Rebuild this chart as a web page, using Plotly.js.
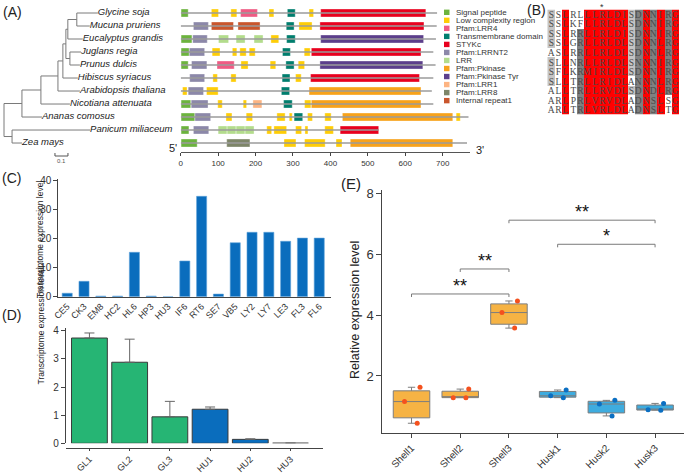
<!DOCTYPE html>
<html>
<head>
<meta charset="utf-8">
<script src="https://cdn.plot.ly/plotly-3.0.1.min.js"></script>
<style>
  html, body { margin: 0; padding: 0; background: #fff; }
  #fig { width: 685px; height: 474px; }
</style>
</head>
<body>
<div id="fig"></div>
<script>
const W = 685, H = 474;
const FONT = 'Liberation Sans, Arial, sans-serif';

// ---------- (A) tree + domain architecture ----------
const species = ['Glycine soja', 'Mucuna pruriens', 'Eucalyptus grandis', 'Juglans regia', 'Prunus dulcis',
  'Hibiscus syriacus', 'Arabidopsis thaliana', 'Nicotiana attenuata', 'Ananas comosus', 'Panicum miliaceum', 'Zea mays'];
const proteinLength = [685, 684, 682, 675, 681, 675, 671, 675, 769, 529, 765];

const domainTypes = ['Signal peptide', 'Low complexity region', 'Pfam:LRR4', 'Transmembrane domain', 'STYKc',
  'Pfam:LRRNT2', 'LRR', 'Pfam:Pkinase', 'Pfam:Pkinase Tyr', 'Pfam:LRR1', 'Pfam:LRR8', 'Internal repeat1'];
const domainColors = ['#6cb33e', '#fecd07', '#ef5b84', '#007e6e', '#e8001e', '#8c88a9', '#b3dc8c',
  '#f7a21b', '#5c3f8b', '#fdb482', '#7d8568', '#c9562d'];

// [type index, start, end] for each protein
const domains = [
  [[0, 1, 20], [1, 82, 101], [1, 134, 150], [2, 160, 205], [1, 236, 249], [3, 285, 306], [1, 343, 355], [4, 374, 655]],
  [[5, 34, 74], [11, 82, 141], [11, 153, 212], [3, 282, 303], [1, 316, 351], [4, 372, 650]],
  [[0, 1, 30], [5, 32, 71], [6, 101, 128], [6, 148, 172], [6, 196, 220], [1, 241, 262], [3, 283, 306], [8, 374, 649]],
  [[0, 1, 23], [5, 23, 64], [1, 84, 105], [1, 138, 150], [1, 158, 175], [1, 183, 199], [3, 272, 293], [1, 330, 346], [4, 349, 642]],
  [[0, 1, 20], [5, 29, 70], [2, 97, 143], [1, 161, 180], [1, 239, 254], [3, 281, 303], [1, 314, 331], [8, 372, 647]],
  [[5, 24, 64], [1, 86, 98], [1, 134, 148], [3, 271, 292], [1, 307, 322], [4, 347, 638]],
  [[1, 5, 17], [5, 20, 61], [1, 69, 100], [3, 269, 291], [7, 343, 642]],
  [[0, 1, 27], [5, 28, 73], [1, 99, 111], [1, 167, 176], [9, 193, 217], [3, 275, 298], [1, 331, 348], [7, 349, 642]],
  [[0, 1, 38], [5, 38, 80], [1, 121, 137], [1, 175, 192], [1, 257, 279], [1, 290, 298], [3, 303, 326], [1, 339, 352], [1, 385, 402], [7, 432, 727], [1, 736, 747]],
  [[0, 1, 22], [5, 34, 75], [6, 100, 124], [6, 124, 148], [6, 148, 172], [6, 172, 196], [1, 230, 243], [1, 249, 283], [1, 307, 323], [1, 332, 340], [1, 385, 408], [4, 426, 529]],
  [[0, 1, 44], [10, 123, 185], [1, 276, 308], [1, 331, 386], [1, 415, 431], [7, 453, 727]]
];

// tree: leaf = [row, branch length], node = [null, branch length, children]
const tree = [null, 0, [
  [null, 0.138, [
    [8, 0.154],
    [null, 0.146, [
      [7, 0.223],
      [null, 0.131, [
        [6, 0.169],
        [null, 0.038, [
          [5, 0.115],
          [null, 0.023, [
            [null, 0.015, [
              [null, 0.069, [[0, 0.162], [1, 0.1]]],
              [2, 0.115]
            ]],
            [null, 0.031, [[3, 0.085], [4, 0.077]]]
          ]]
        ]]
      ]]
    ]]
  ]],
  [null, 0.062, [[9, 0.6], [10, 0.077]]]
]];

// ---------- (B) alignment ----------
const alignment = [
  'SSLRLLLRLDISDNNIRG',
  'SSLKFLLRLDLSDNNIRG',
  'SSLRRLLRLDISDNNIRG',
  'SSLGRLLRLDLSDNNLRG',
  'ASLRRLLRLDLSDNNLRG',
  'SLLNRLLRLDLSNNNIRG',
  'SFLKRMIRLDLSDNNIRG',
  'SLLTRLLRIDLANNNLRG',
  'ALLTRLLRVDLSDNDLRG',
  'ARLPRLVRVDLADNSLSG',
  'ARLTRLVRLDLADNSLTG'
];
// 0 none, 1 light grey, 2 dark grey, 3 red
const shading = [
  '103003333331232323',
  '103003333331232323',
  '103023333331232323',
  '103023333331232323',
  '003023333331232323',
  '103023333331232323',
  '103023333331232323',
  '103023333330232323',
  '003023333331232323',
  '003023333330232303',
  '003023333330232303'
];

// ---------- (C) ----------
const cultivars = ['CE5', 'CK3', 'EM8', 'HC2', 'HL6', 'HP3', 'HU3', 'IF6', 'RT6', 'SE7', 'VB5', 'LY2', 'LY7', 'LE3', 'FL3', 'FL6'];
const transcriptome = [1.2, 5.3, 0.2, 0.2, 15.3, 0.2, 0, 12.3, 34.6, 0.9, 18.6, 22.2, 22.2, 19.1, 20.2, 20.2];

// ---------- (D) ----------
const tissues = ['GL1', 'GL2', 'GL3', 'HU1', 'HU2', 'HU3'];
const tissueMean = [3.74, 2.88, 0.94, 1.21, 0.14, 0.005];
const tissueErr = [0.18, 0.82, 0.55, 0.08, 0.02, 0];

// ---------- (E) ----------
const samples = ['Shell1', 'Shell2', 'Shell3', 'Husk1', 'Husk2', 'Husk3'];
const sampleValues = [[0.45, 1.16, 1.63], [1.29, 1.29, 1.57], [3.57, 4.08, 4.46],
  [1.29, 1.35, 1.54], [0.69, 1.08, 1.2], [0.88, 0.89, 1.1]];
const comparisons = [[0, 2, 4.69, '**'], [1, 2, 5.51, '**'], [3, 5, 6.32, '*'], [2, 5, 7.11, '**']];

// ---------- helpers ----------
const xd = (a, b) => [a / W, b / W];
const yd = (top, bottom) => [1 - bottom / H, 1 - top / H];
const traces = [], shapes = [], annotations = [];

// backbone lines
const bx = [], by = [];
proteinLength.forEach((len, r) => { bx.push(0, len, null); by.push(r, r, null); });
traces.push({ type: 'scatter', mode: 'lines', x: bx, y: by, xaxis: 'x', yaxis: 'y',
  line: { color: '#9b9b9b', width: 1.6 }, hoverinfo: 'skip', showlegend: false });

domainTypes.forEach((name, t) => {
  const ys = [], bases = [], lens = [];
  domains.forEach((row, r) => row.forEach(d => {
    if (d[0] === t) { ys.push(r); bases.push(d[1]); lens.push(d[2] - d[1]); }
  }));
  traces.push({ type: 'bar', orientation: 'h', name: name, y: ys, base: bases, x: lens, width: 0.62,
    xaxis: 'x', yaxis: 'y', marker: { color: domainColors[t], line: { color: 'rgba(255,255,255,0.6)', width: 0.6 } },
    hoverinfo: 'skip', showlegend: false });
  // legend
  const cy = 12.3 + 8.03 * t;
  shapes.push({ type: 'rect', xref: 'paper', yref: 'paper', x0: 444 / W, x1: 449.5 / W,
    y0: 1 - (cy + 2.7) / H, y1: 1 - (cy - 2.7) / H, fillcolor: domainColors[t], line: { width: 0 } });
  annotations.push({ xref: 'paper', yref: 'paper', x: 454 / W, y: 1 - cy / H, xanchor: 'left', yanchor: 'middle',
    text: name, showarrow: false, font: { size: 8, color: '#333', family: FONT } });
});

// tree
const treeX = [], treeY = [], tipX = [], tipY = [], tipText = [];
function layoutNode(node, x0) {
  const leaf = node[0], len = node[1], kids = node[2];
  const x = x0 + len;
  let y;
  if (kids) {
    const ys = kids.map(k => layoutNode(k, x));
    y = (ys[0] + ys[ys.length - 1]) / 2;
    treeX.push(x, x, null); treeY.push(ys[0], ys[ys.length - 1], null);
  } else {
    y = leaf; tipX.push(x); tipY.push(y); tipText.push(species[leaf]);
  }
  if (len > 0) { treeX.push(x0, x, null); treeY.push(y, y, null); }
  return y;
}
layoutNode(tree, 0);
traces.push({ type: 'scatter', mode: 'lines', x: treeX, y: treeY, xaxis: 'x2', yaxis: 'y',
  line: { color: '#7a7a7a', width: 1 }, hoverinfo: 'skip', showlegend: false });
traces.push({ type: 'scatter', mode: 'text', x: tipX, y: tipY, text: tipText, textposition: 'middle right',
  xaxis: 'x2', yaxis: 'y', cliponaxis: false,
  textfont: { family: FONT, size: 9.5, style: 'italic', color: '#222' }, hoverinfo: 'skip', showlegend: false });
// scale bar 0.1
shapes.push({ type: 'path', xref: 'x2', yref: 'paper',
  path: 'M0.392,' + (1 - 153 / H) + ' L0.392,' + (1 - 156 / H) + ' L0.492,' + (1 - 156 / H) + ' L0.492,' + (1 - 153 / H),
  line: { color: '#555', width: 1 } });
annotations.push({ xref: 'x2', yref: 'paper', x: 0.442, y: 1 - 161 / H, text: '0.1', showarrow: false,
  font: { size: 6, color: '#555', family: FONT } });

// alignment heatmap
traces.push({ type: 'heatmap', z: shading.map(s => s.split('').map(Number)), text: alignment.map(s => s.split('')),
  texttemplate: '%{text}', textfont: { family: 'Liberation Serif, DejaVu Serif, serif', size: 9.5, color: '#4a4a4a' },
  zmin: 0, zmax: 3, showscale: false, hoverinfo: 'skip', xaxis: 'x3', yaxis: 'y3',
  colorscale: [[0, '#ffffff'], [0.1667, '#ffffff'], [0.1667, '#c4c4c4'], [0.5, '#c4c4c4'],
    [0.5, '#808080'], [0.8333, '#808080'], [0.8333, '#ff0000'], [1, '#ff0000']] });
annotations.push({ xref: 'x3', yref: 'paper', x: 7, y: 1, yanchor: 'top', text: '*',
  showarrow: false, font: { size: 9, color: '#333', family: FONT } });

// (C)
traces.push({ type: 'bar', x: cultivars, y: transcriptome, width: 0.6, xaxis: 'x4', yaxis: 'y4',
  marker: { color: '#0a6dbd', line: { color: '#5fa3da', width: 0.6 } }, hoverinfo: 'skip', showlegend: false });

// (D)
traces.push({ type: 'bar', x: tissues, y: tissueMean, width: 0.89, xaxis: 'x5', yaxis: 'y5',
  marker: { color: tissues.map(t => t.startsWith('GL') ? '#26b574' : '#0a6dbd'), line: { color: '#3a3a3a', width: 1 } },
  error_y: { type: 'data', symmetric: false, array: tissueErr, arrayminus: tissueErr.map(() => 0),
    color: '#666', thickness: 1, width: 5 },
  hoverinfo: 'skip', showlegend: false });

// (E)
samples.forEach((s, i) => {
  const shell = s.startsWith('Shell');
  traces.push({ type: 'box', name: s, y: sampleValues[i], x0: i, width: 0.75, xaxis: 'x6', yaxis: 'y6',
    boxpoints: 'all', jitter: 0.6, pointpos: 0, whiskerwidth: 0.2,
    fillcolor: shell ? 'rgba(245,166,35,0.85)' : 'rgba(41,163,220,0.9)',
    line: { color: '#7d7d7d', width: 1 },
    marker: { color: shell ? '#f4511e' : '#0b6fc2', size: 5 },
    hoverinfo: 'skip', showlegend: false });
});
comparisons.forEach(c => {
  const [a, b, lvl, star] = c;
  traces.push({ type: 'scatter', mode: 'lines', x: [a, a, b, b], y: [lvl - 0.1, lvl, lvl, lvl - 0.1],
    xaxis: 'x6', yaxis: 'y6', line: { color: '#7a7a7a', width: 1 }, hoverinfo: 'skip', showlegend: false });
  annotations.push({ xref: 'x6', yref: 'y6', x: (a + b) / 2, y: lvl, yanchor: 'bottom', yshift: -4,
    text: star, showarrow: false, font: { size: 18, color: '#111', family: FONT } });
});

// texts
const label = (t, x, y, size) => annotations.push({ xref: 'paper', yref: 'paper', x: x / W, y: 1 - y / H,
  xanchor: 'left', yanchor: 'middle', text: t, showarrow: false, font: { size: size || 14, color: '#222', family: FONT } });
label('(A)', 1, 12); label('(B)', 525, 10); label('(C)', 0, 178); label('(D)', 0, 315); label('(E)', 339, 184, 15);
label("5'", 167, 148, 11); label("3'", 474, 150, 11);
const vtitle = (t, x, y, size) => annotations.push({ xref: 'paper', yref: 'paper', x: x / W, y: 1 - y / H,
  textangle: -90, text: t, showarrow: false, font: { size: size, color: '#222', family: FONT } });
vtitle('Transcriptome expression level', 33, 240, 8.5);
vtitle('Transcriptome expression level', 33, 387, 8.5);
vtitle('Relative expression level', 355, 310, 12.5);

const axisBase = { showgrid: false, zeroline: false, showline: true, linecolor: '#444', linewidth: 1,
  ticks: 'outside', tickcolor: '#444', fixedrange: true };

const layout = {
  width: W, height: H, margin: { l: 0, r: 0, t: 0, b: 0 },
  paper_bgcolor: '#fff', plot_bgcolor: 'rgba(0,0,0,0)',
  font: { family: FONT, color: '#222' },
  barmode: 'overlay', boxmode: 'overlay', showlegend: false,
  xaxis: Object.assign({}, axisBase, { domain: xd(180.7, 470), range: [0, 773], anchor: 'y',
    tickvals: [0, 100, 200, 300, 400, 500, 600, 700], ticklen: 3, linecolor: '#555',
    tickfont: { size: 8, color: '#333' } }),
  yaxis: { domain: yd(0, 152), range: [10.69, -1], visible: false, fixedrange: true },
  xaxis2: { domain: xd(0, 180), range: [-4 / 130, 176 / 130], visible: false, anchor: 'y', fixedrange: true },
  xaxis3: { domain: xd(547.3, 679), range: [-0.5, 17.5], visible: false, anchor: 'y3', fixedrange: true },
  yaxis3: { domain: yd(9.5, 114.5), range: [10.5, -0.5], visible: false, anchor: 'x3', fixedrange: true },
  xaxis4: Object.assign({}, axisBase, { domain: xd(58.3, 331), range: [-0.53, 15.7], anchor: 'y4',
    ticks: '', tickangle: -45, tickfont: { size: 9, color: '#333' } }),
  yaxis4: Object.assign({}, axisBase, { domain: yd(179.2, 296.7), range: [0, 40.5], anchor: 'x4',
    tickvals: [0, 10, 20, 30, 40], ticklen: 4, tickfont: { size: 10, color: '#333' } }),
  xaxis5: Object.assign({}, axisBase, { domain: xd(65.7, 322.7), range: [-0.59, 5.8], anchor: 'free',
    position: 1 - 447.5 / H, ticklen: 2, tickangle: -45, tickfont: { size: 9, color: '#333' } }),
  yaxis5: Object.assign({}, axisBase, { domain: yd(327.9, 443.3), range: [0, 4.1], anchor: 'x5',
    tickvals: [0, 1, 2, 3, 4], ticklen: 4, tickfont: { size: 10, color: '#333' } }),
  xaxis6: Object.assign({}, axisBase, { domain: xd(382.3, 684.3), range: [-0.6, 5.6], anchor: 'y6',
    tickvals: samples.map((s, i) => i), ticktext: samples, ticklen: 4, tickangle: -45,
    tickfont: { size: 10, color: '#333' } }),
  yaxis6: Object.assign({}, axisBase, { domain: yd(190, 433.3), range: [0.12, 8.1], anchor: 'x6',
    tickvals: [2, 4, 6, 8], ticklen: 5, tickfont: { size: 13, color: '#333' } }),
  shapes: shapes,
  annotations: annotations
};

Plotly.newPlot('fig', traces, layout, { staticPlot: true, displayModeBar: false });
</script>
</body>
</html>
